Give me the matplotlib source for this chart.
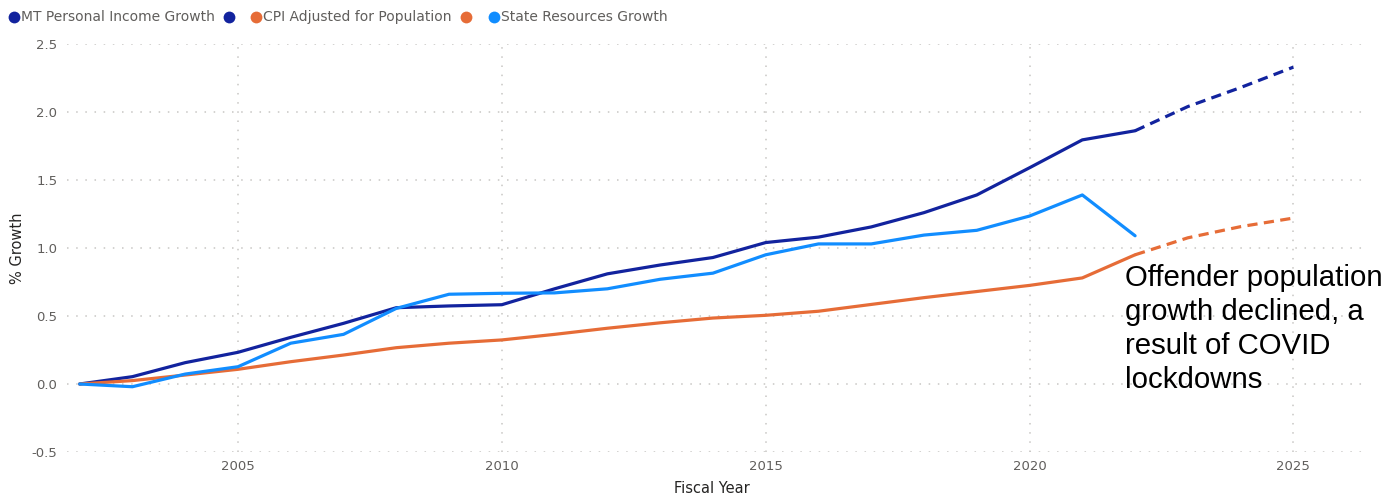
import matplotlib
matplotlib.use("Agg")
import matplotlib.pyplot as plt
from matplotlib.lines import Line2D

years = list(range(2002, 2023))
proj_years = [2022, 2023, 2024, 2025]

income = [0.0, 0.054, 0.157, 0.233, 0.343, 0.446, 0.561, 0.574, 0.583, 0.70,
          0.81, 0.875, 0.93, 1.04, 1.08, 1.155, 1.26, 1.39, 1.59, 1.795, 1.862]
income_proj = [1.862, 2.04, 2.18, 2.33]

cpi = [0.0, 0.025, 0.066, 0.108, 0.164, 0.213, 0.267, 0.30, 0.324, 0.365,
       0.41, 0.45, 0.485, 0.505, 0.535, 0.585, 0.635, 0.68, 0.725, 0.78, 0.95]
cpi_proj = [0.95, 1.075, 1.157, 1.22]

state = [0.0, -0.02, 0.073, 0.127, 0.30, 0.365, 0.556, 0.66, 0.667, 0.67,
         0.70, 0.77, 0.815, 0.95, 1.03, 1.03, 1.095, 1.13, 1.235, 1.39, 1.09]

legend_labels = ["MT Personal Income Growth", "", "CPI Adjusted for Population", "", "State Resources Growth"]
xticks = [2005, 2010, 2015, 2020, 2025]
yticks = [-0.5, 0.0, 0.5, 1.0, 1.5, 2.0, 2.5]

C_DARK = "#12239E"
C_ORANGE = "#E66C37"
C_LIGHT = "#118DFF"
GRID = "#C8C6C4"
TICK = "#605E5C"

W, H = 1398, 498
fig = plt.figure(figsize=(W / 100, H / 100), dpi=100)
ax = fig.add_axes([67 / W, 1 - 452 / H, (1362 - 67) / W, (452 - 44) / H])

lw = 2.3
ax.plot(years, income, color=C_DARK, lw=lw, solid_capstyle="round", solid_joinstyle="round")
ax.plot(proj_years, income_proj, color=C_DARK, lw=lw, linestyle=(0, (3.2, 2.0)))
ax.plot(years, cpi, color=C_ORANGE, lw=lw, solid_capstyle="round", solid_joinstyle="round")
ax.plot(proj_years, cpi_proj, color=C_ORANGE, lw=lw, linestyle=(0, (3.2, 2.0)))
ax.plot(years, state, color=C_LIGHT, lw=lw, solid_capstyle="round", solid_joinstyle="round")

ax.set_xlim(2001.76, 2026.3)
ax.set_ylim(-0.5, 2.5)
ax.set_xticks(xticks)
ax.set_yticks(yticks)
ax.set_yticklabels([f"{v:.1f}" for v in yticks])
ax.grid(True, color=GRID, linestyle=(0, (1, 5)), linewidth=1.1)
ax.set_axisbelow(True)
for s in ax.spines.values():
    s.set_visible(False)
ax.tick_params(length=0, colors=TICK, labelsize=9.5)
ax.tick_params(axis="y", pad=7)
ax.tick_params(axis="x", pad=6)
for lab in ax.get_xticklabels() + ax.get_yticklabels():
    lab.set_color(TICK)

fig.text(712 / W, 1 - 488 / H, "Fiscal Year", ha="center", va="center", fontsize=10.5, color="#252423")
fig.text(18 / W, 1 - 248 / H, "% Growth", ha="center", va="center", rotation=90, fontsize=10.5, color="#252423")

fig.text(1125 / W, 1 - 264 / H, "Offender population\ngrowth declined, a\nresult of COVID\nlockdowns",
         ha="left", va="top", fontsize=21.2, color="black", family="Liberation Sans", linespacing=1.27)

# legend
colors = [C_DARK, C_DARK, C_ORANGE, C_ORANGE, C_LIGHT]
dot_x = [14, 229, 256, 466, 494]
ly = 1 - 17 / H
for cx, col, lab in zip(dot_x, colors, legend_labels):
    fig.add_artist(Line2D([cx / W], [ly], marker="o", markersize=8.5, color=col,
                          markeredgewidth=0, transform=fig.transFigure))
    if lab:
        fig.text((cx + 7) / W, ly, lab, ha="left", va="center", fontsize=10, color=TICK)

fig.savefig("out.png", dpi=100)
